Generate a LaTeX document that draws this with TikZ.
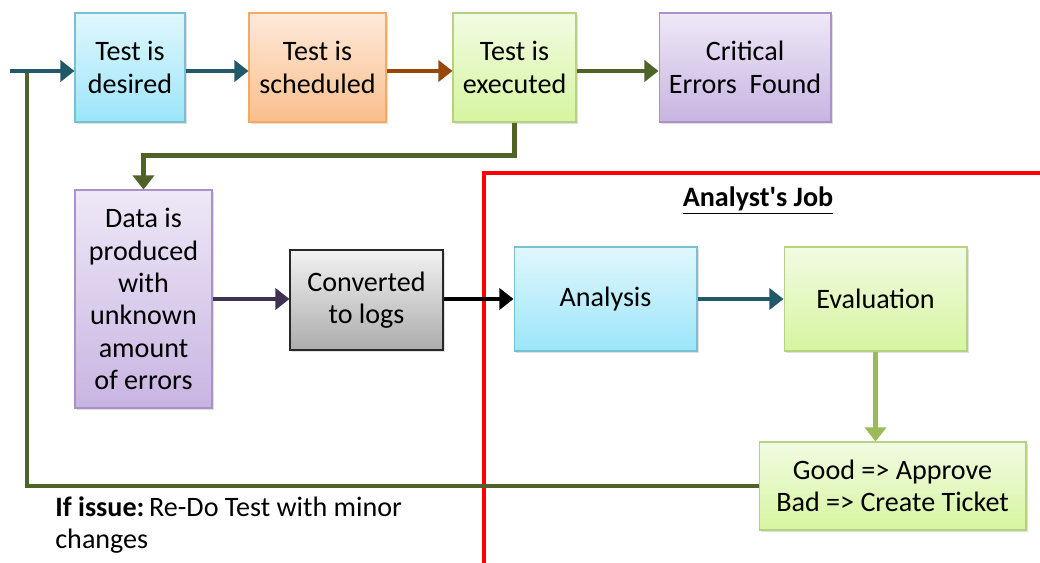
\documentclass[tikz,border=0pt]{standalone}
\usepackage{fontspec}
\setmainfont{Carlito}
\usetikzlibrary{calc,arrows.meta,shadows}

\definecolor{tealline}{RGB}{33,89,104}
\definecolor{brownline}{RGB}{152,72,6}
\definecolor{oliveline}{RGB}{79,98,40}
\definecolor{plumline}{RGB}{63,49,81}
\definecolor{leafline}{RGB}{155,187,89}

\begin{document}
\begin{tikzpicture}[x=0.02cm,y=-0.02cm,
    font=\fontsize{16}{18.4}\selectfont,
    box/.style={draw, align=center, inner sep=2pt, line width=0.6pt,
      drop shadow={shadow xshift=1.2pt, shadow yshift=-1.2pt, opacity=0.25}},
    bluebox/.style={box, draw={rgb,255:red,120;green,192;blue,212},
      top color={rgb,255:red,224;green,247;blue,253}, bottom color={rgb,255:red,156;green,229;blue,250}},
    orangebox/.style={box, draw={rgb,255:red,245;green,170;blue,100},
      top color={rgb,255:red,253;green,234;blue,218}, bottom color={rgb,255:red,250;green,190;blue,140}},
    greenbox/.style={box, draw={rgb,255:red,180;green,210;blue,130},
      top color={rgb,255:red,242;green,251;blue,226}, bottom color={rgb,255:red,214;green,245;blue,160}},
    purplebox/.style={box, draw={rgb,255:red,170;green,145;blue,200},
      top color={rgb,255:red,238;green,232;blue,247}, bottom color={rgb,255:red,200;green,180;blue,226}},
    graybox/.style={box, draw={rgb,255:red,40;green,40;blue,40},
      top color={rgb,255:red,242;green,242;blue,242}, bottom color={rgb,255:red,172;green,172;blue,172}},
    flow/.style={line width=2.3pt, -{Triangle[length=8pt,width=12pt]}}]

  \useasboundingbox (0,0) rectangle (1040,563);

  %% Top row: life of a test
  \node[bluebox, minimum width=2.2cm, minimum height=2.18cm] (desired) at (130,67.5) {Test is\\desired};
  \node[orangebox, minimum width=2.74cm, minimum height=2.18cm] (scheduled) at (317.5,67.5) {Test is\\scheduled};
  \node[greenbox, minimum width=2.46cm, minimum height=2.18cm] (executed) at (514.5,67.5) {Test is\\executed};
  \node[purplebox, minimum width=3.44cm, minimum height=2.18cm] (critical) at (745,67.5) {Critical\\Errors~~Found};

  %% Second row
  \node[purplebox, minimum width=2.74cm, minimum height=4.36cm] (data) at (143.5,299) {Data is\\produced\\with\\unknown\\amount\\of errors};
  \node[graybox, minimum width=3.06cm, minimum height=2.0cm] (logs) at (366.5,300) {Converted\\to logs};

  %% Analyst's part
  \draw[red, line width=2pt] (484,563) -- (484,173) -- (1040,173);
  \node[font=\fontsize{16}{18.4}\selectfont\bfseries] (job) at (758,201) {\underline{Analyst\textquotesingle s Job}};
  \node[bluebox, minimum width=3.66cm, minimum height=2.08cm] (analysis) at (605.5,299) {Analysis};
  \node[greenbox, minimum width=3.66cm, minimum height=2.08cm] (evaluation) at (875.5,299) {Evaluation};
  \node[greenbox, minimum width=5.34cm, minimum height=1.76cm] (decision) at (892.5,486) {Good => Approve\\Bad => Create Ticket};

  \node[anchor=north west, align=left, inner sep=0pt] (issue) at (55,496)
    {\textbf{If issue:}\,Re-Do Test with minor\\changes};

  %% Connectors
  \coordinate (entry) at (10,71);
  \coordinate (looptop) at (27,71);
  \draw[oliveline, line width=2.3pt] (decision.west) -- (decision.west -| looptop) -- (looptop);
  \draw[flow, tealline] (entry) -- (desired.west |- entry);
  \draw[flow, tealline] (desired.east |- entry) -- (scheduled.west |- entry);
  \draw[flow, brownline] (scheduled.east |- entry) -- (executed.west |- entry);
  \draw[flow, oliveline] (executed.east |- entry) -- (critical.west |- entry);
  \draw[flow, oliveline] (executed.south) -- ($(executed.south)+(0,33)$) -| (data.north);
  \draw[flow, plumline] (data.east) -- (data.east -| logs.west);
  \draw[flow, black] (analysis.west -| logs.east) -- (analysis.west);
  \draw[flow, tealline] (analysis.east) -- (evaluation.west);
  \draw[flow, leafline] (evaluation.south) -- (evaluation.south |- decision.north);

\end{tikzpicture}
\end{document}
